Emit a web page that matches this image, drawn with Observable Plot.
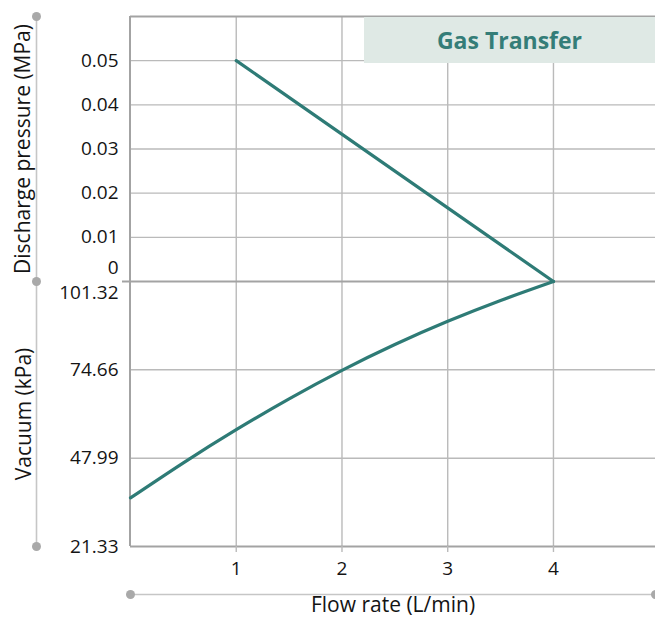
<!DOCTYPE html>
<html><head><meta charset="utf-8">
<script src="https://cdn.jsdelivr.net/npm/d3@7"></script>
<script src="https://cdn.jsdelivr.net/npm/@observablehq/plot@0.6"></script>
<style>
body{margin:0;background:#fff;font-family:"Open Sans",sans-serif;}
#wrap{position:relative;width:655px;height:619px;overflow:hidden;}
#title{position:absolute;left:364px;top:17px;width:291px;height:46px;background:#dfe9e5;color:#347d78;font:700 23px "Open Sans",sans-serif;display:flex;align-items:center;justify-content:center;}
</style></head><body>
<div id="wrap"><div id="chart"></div><div id="title">Gas Transfer</div></div>
<script>
const flowDischarge = [1, 4];
const dischargeMPa = [0.05, 0];
const flowVacuum = [0, 0.5, 1, 1.5, 2, 2.5, 3, 3.5, 4];
const vacuumKPa = [36.0, 46.6, 56.6, 65.9, 74.5, 82.3, 89.3, 95.6, 101.32];
const flowTicks = [1, 2, 3, 4];
const pressureTicks = [0.05, 0.04, 0.03, 0.02, 0.01, 0];
const vacuumTicks = [101.32, 74.66, 47.99, 21.33];
const vacMin = 21.33, vacMax = 101.32, pMax = 0.06, flowMax = 4.965;

// shared vertical coordinate: vacuum occupies 0..3, discharge pressure 3..6
const vU = v => (v - vacMin) / (vacMax - vacMin) * 3;
const pU = p => 3 + p / pMax * 3;

const teal = "#2e7b76";
const grid = "#bababa";
const frame = "#a3a3a3";
const deco = "#c6c6c6";
const decoDot = "#a9a9a9";
const tickFont = 19;
const titleFont = 21;

const dischargeData = flowDischarge.map((x, i) => ({x, y: pU(dischargeMPa[i])}));
const vacuumData = flowVacuum.map((x, i) => ({x, y: vU(vacuumKPa[i])}));

const chart = Plot.plot({
  width: 655, height: 619,
  marginLeft: 130, marginRight: 0, marginTop: 16, marginBottom: 73,
  x: {domain: [0, flowMax]},
  y: {domain: [0, 6], axis: null},
  style: {fontFamily: "Open Sans, sans-serif", fontSize: "19px", color: "#141414", background: "#fff"},
  marks: [
    // gridlines
    Plot.ruleX(flowTicks, {y1: 0, y2: 6, stroke: grid, strokeWidth: 1.4}),
    Plot.ruleY(pressureTicks.filter(p => p > 0), {y: pU, stroke: grid, strokeWidth: 1.4}),
    Plot.ruleY(vacuumTicks.slice(1, 3), {y: vU, stroke: grid, strokeWidth: 1.4}),
    // frame
    Plot.ruleY([pMax], {y: pU, stroke: frame, strokeWidth: 2}),
    Plot.ruleY([0], {y: pU, stroke: frame, strokeWidth: 2, insetLeft: -8}),
    Plot.ruleY([vacMin], {y: vU, stroke: frame, strokeWidth: 2}),
    Plot.ruleX([0], {y1: 0, y2: 6, stroke: frame, strokeWidth: 2, dx: -0.5}),
    // x axis
    Plot.axisX(flowTicks, {tickSize: 6, tickPadding: 9, stroke: grid, strokeWidth: 1.4, label: null, fontSize: tickFont}),
    // y tick labels
    Plot.text(pressureTicks.filter(p => p > 0), {y: pU, text: d => d.toFixed(2), frameAnchor: "left", textAnchor: "end", dx: -12, fontSize: tickFont}),
    Plot.text([0], {y: pU, text: d => String(d), frameAnchor: "left", textAnchor: "end", dx: -12, dy: -14, fontSize: tickFont}),
    Plot.text(vacuumTicks.slice(0, 1), {y: vU, text: d => d.toFixed(2), frameAnchor: "left", textAnchor: "end", dx: -12, dy: 11, fontSize: tickFont}),
    Plot.text(vacuumTicks.slice(1), {y: vU, text: d => d.toFixed(2), frameAnchor: "left", textAnchor: "end", dx: -12, fontSize: tickFont}),
    // decorative axis guides
    Plot.ruleX([0], {y1: 0, y2: 6, dx: -94, stroke: deco, strokeWidth: 1.6}),
    Plot.dot([pMax, 0], {y: pU, frameAnchor: "left", dx: -94, r: 4.5, fill: decoDot}),
    Plot.dot([vacMin], {y: vU, frameAnchor: "left", dx: -94, r: 4.5, fill: decoDot}),
    Plot.ruleY([vacMin], {y: vU, dy: 48, stroke: deco, strokeWidth: 1.6}),
    Plot.dot([0], {frameAnchor: "bottom-left", dy: 48, r: 4.5, fill: decoDot}),
    Plot.dot([0], {frameAnchor: "bottom-right", dy: 48, r: 4.5, fill: decoDot}),
    // axis titles
    Plot.text(["Discharge pressure (MPa)"], {y: () => pU(pMax / 2), frameAnchor: "left", textAnchor: "middle", dx: -107, rotate: -90, fontSize: titleFont}),
    Plot.text(["Vacuum (kPa)"], {y: () => vU((vacMin + vacMax) / 2), frameAnchor: "left", textAnchor: "middle", dx: -106, rotate: -90, fontSize: titleFont}),
    Plot.text(["Flow rate (L/min)"], {frameAnchor: "bottom", dy: 65, fontSize: titleFont}),
    // data
    Plot.line(vacuumData, {x: "x", y: "y", stroke: teal, strokeWidth: 3.2, curve: "natural"}),
    Plot.line(dischargeData, {x: "x", y: "y", stroke: teal, strokeWidth: 3.2})
  ]
});
document.getElementById("chart").append(chart);
</script>
</body></html>
